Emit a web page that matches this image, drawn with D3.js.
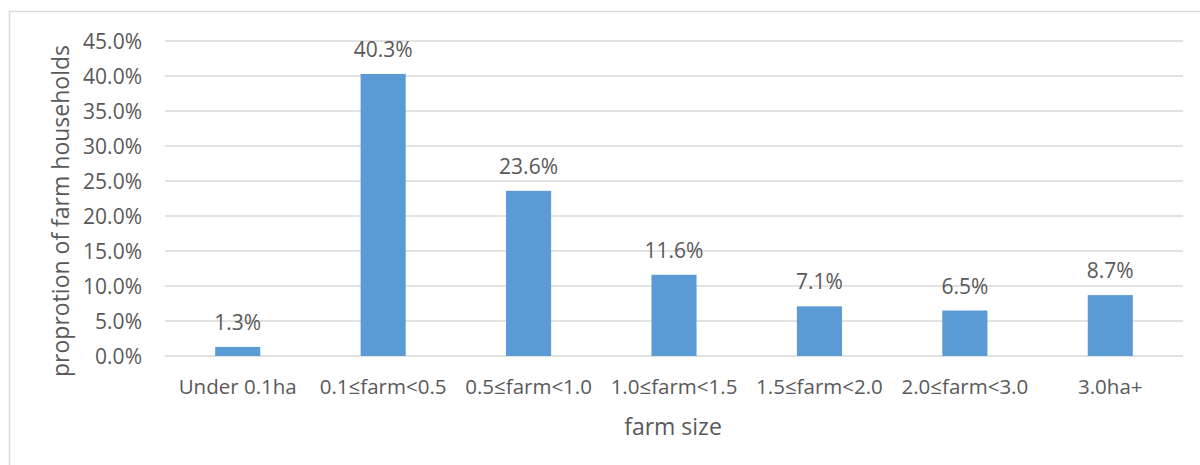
<!DOCTYPE html>
<html>
<head>
<meta charset="utf-8">
<script src="https://cdn.jsdelivr.net/npm/d3@7/dist/d3.min.js"></script>
<style>
  body { margin: 0; background: #fff; }
  text { font-family: "Open Sans", "Noto Sans", sans-serif; fill: #595959; }
</style>
</head>
<body>
<div id="chart"></div>
<script>
// data
var categories = ["Under 0.1ha", "0.1\u2264farm<0.5", "0.5\u2264farm<1.0", "1.0\u2264farm<1.5",
                  "1.5\u2264farm<2.0", "2.0\u2264farm<3.0", "3.0ha+"];
var values = [1.3, 40.3, 23.6, 11.6, 7.1, 6.5, 8.7];
var yTicks = [0, 5, 10, 15, 20, 25, 30, 35, 40, 45];

var width = 1200, height = 465;
var plot = {left: 165, right: 1183, top: 41, bottom: 356};

var svg = d3.select("#chart").append("svg")
    .attr("width", width)
    .attr("height", height);

// chart border
svg.append("rect")
    .attr("x", 9.5).attr("y", 11.5)
    .attr("width", 1300).attr("height", 600)
    .attr("fill", "none")
    .attr("stroke", "#d9d9d9")
    .attr("stroke-width", 1.5);

var x = d3.scaleBand()
    .domain(categories)
    .range([plot.left, plot.right])
    .paddingInner(0.69)
    .paddingOuter(0.345);

var y = d3.scaleLinear()
    .domain([0, 45])
    .range([plot.bottom, plot.top]);

// gridlines
svg.append("g").selectAll("line")
    .data(yTicks)
    .enter().append("line")
    .attr("x1", plot.left).attr("x2", plot.right)
    .attr("y1", d => y(d)).attr("y2", d => y(d))
    .attr("stroke", "#d9d9d9")
    .attr("stroke-width", 1.5);

// y tick labels
svg.append("g").selectAll("text")
    .data(yTicks)
    .enter().append("text")
    .attr("x", 142)
    .attr("y", d => y(d))
    .attr("dy", "0.36em")
    .attr("text-anchor", "end")
    .style("font-size", "21px")
    .text(d => d.toFixed(1) + "%");

// bars
svg.append("g").selectAll("rect")
    .data(values)
    .enter().append("rect")
    .attr("x", (d, i) => x(categories[i]))
    .attr("y", d => y(d))
    .attr("width", x.bandwidth())
    .attr("height", d => y(0) - y(d))
    .attr("fill", "#5b9bd5");

// value labels
svg.append("g").selectAll("text")
    .data(values)
    .enter().append("text")
    .attr("x", (d, i) => x(categories[i]) + x.bandwidth() / 2)
    .attr("y", d => y(d) - 17)
    .attr("text-anchor", "middle")
    .style("font-size", "21px")
    .text(d => d.toFixed(1) + "%");

// category labels
svg.append("g").selectAll("text")
    .data(categories)
    .enter().append("text")
    .attr("x", d => x(d) + x.bandwidth() / 2)
    .attr("y", 394)
    .attr("text-anchor", "middle")
    .style("font-size", "20.5px")
    .text(d => d);

// axis titles
svg.append("text")
    .attr("x", 673)
    .attr("y", 435)
    .attr("text-anchor", "middle")
    .style("font-size", "23px")
    .text("farm size");

svg.append("text")
    .attr("transform", "translate(69,211) rotate(-90)")
    .attr("text-anchor", "middle")
    .style("font-size", "23px")
    .text("proprotion of farm households");
</script>
</body>
</html>
